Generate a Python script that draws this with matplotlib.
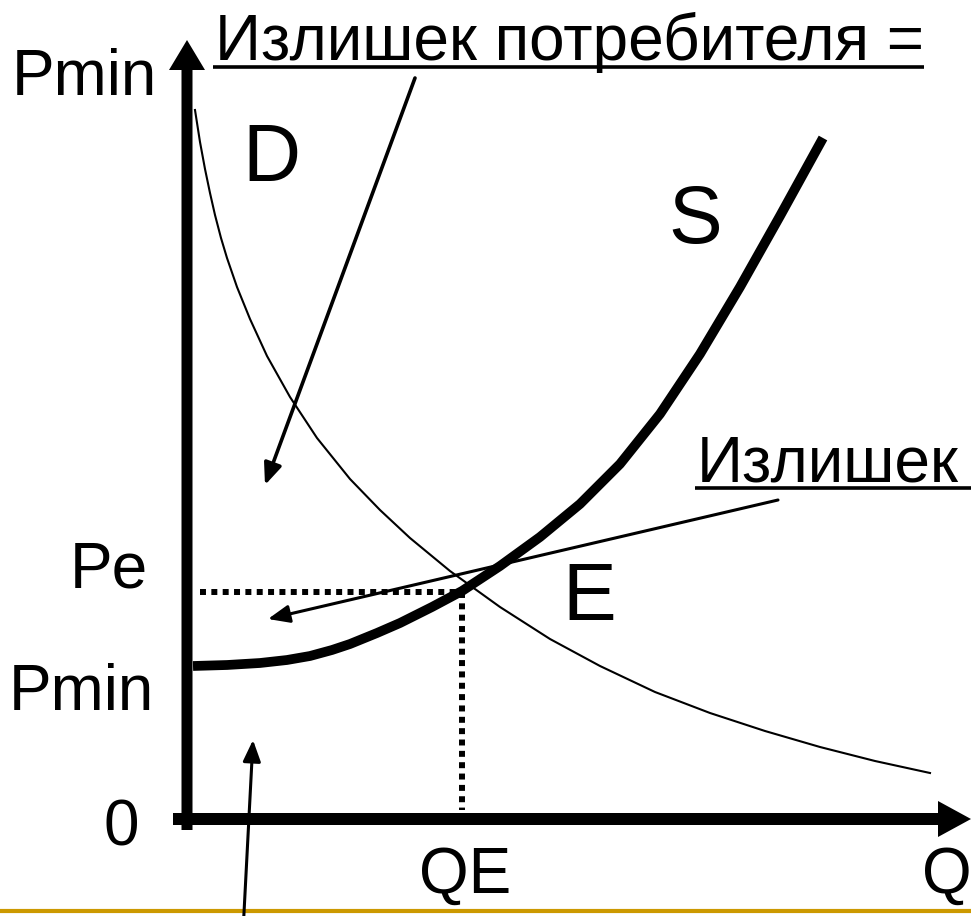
import numpy as np
import matplotlib.pyplot as plt
from matplotlib.patches import FancyArrow

plt.rcParams['font.family'] = ['Liberation Sans', 'DejaVu Sans']

# Curves (Q, P); origin at the axes corner
supply_q = [6, 40, 73, 100, 123, 145, 163, 190, 213, 245, 275, 313, 353, 393, 433, 473, 513, 553, 593, 636]
supply_p = [156, 157, 159, 162, 166, 172, 178, 189, 199, 215, 231, 256, 285, 318, 358, 408, 468, 535, 606, 684]

demand_q = [8, 13, 18, 23, 28, 34, 40, 50, 63, 80, 103, 130, 163, 193, 223, 263, 313, 363, 413, 468, 523, 578, 633, 688, 743]
demand_p = [712, 680, 653, 629, 607, 584, 564, 535, 503, 466, 425, 384, 343, 312, 284, 251, 215, 183, 156, 130, 109, 91, 75, 61, 49]

q_e, p_e = 275, 230       # equilibrium
p_min = 156

fig = plt.figure(figsize=(9.71, 9.16), dpi=100)
ax = fig.add_axes([0, 0, 1, 1])
ax.set_xlim(-187, 784)
ax.set_ylim(-94, 822)
ax.axis('off')

# axes with arrows
ax.add_patch(FancyArrow(0, -8, 0, 790, width=11, head_width=36, head_length=30,
                        length_includes_head=True, color='black', lw=0))
ax.add_patch(FancyArrow(-14, 3, 798, 0, width=12, head_width=36, head_length=33,
                        length_includes_head=True, color='black', lw=0))

# dotted guides to equilibrium
ax.plot([13, q_e], [p_e, p_e], color='black', lw=4.3, ls=(0, (1, 0.9)))
ax.plot([q_e, q_e], [p_e, 12], color='black', lw=4.3, ls=(0, (1, 0.9)))

# curves
ax.plot(demand_q, demand_p, color='black', lw=1.5, solid_joinstyle='round')
ax.plot(supply_q, supply_p, color='black', lw=7, solid_capstyle='butt',
        solid_joinstyle='round')

# pointer arrows
def pointer(start, end, lw=2.2):
    ax.annotate('', xy=end, xytext=start,
                arrowprops=dict(arrowstyle='-|>,head_length=0.65,head_width=0.27',
                                mutation_scale=20, lw=lw, color='black',
                                shrinkA=0, shrinkB=0))

pointer((228, 744), (78, 337), lw=2.6)
pointer((591, 322), (81, 203))
pointer((56, -110), (66, 82))

# labels
big = 58
mid = 46
ax.text(-175, 727, 'Pmin', fontsize=mid, va='baseline', ha='left')
title = ax.text(28, 762, 'Излишек потребителя =', fontsize=mid, va='baseline', ha='left')
ax.text(55, 641, 'D', fontsize=big, va='baseline', ha='left')
ax.text(481, 579, 'S', fontsize=big, va='baseline', ha='left')
prod = ax.text(510, 341, 'Излишек', fontsize=mid, va='baseline', ha='left')
ax.text(-39, 234, 'Pe', fontsize=mid, va='baseline', ha='right')
ax.text(375, 202, 'E', fontsize=big, va='baseline', ha='left')
ax.text(-33, 112, 'Pmin', fontsize=mid, va='baseline', ha='right')
ax.text(-66, -23, '0', fontsize=mid, va='baseline', ha='center')
ax.text(q_e + 3, -71, 'QE', fontsize=mid, va='baseline', ha='center')
ax.text(735, -71, 'Q', fontsize=mid, va='baseline', ha='left')

# underlines under the two captions
fig.canvas.draw()
inv = ax.transData.inverted()
for t, right_edge, base in [(title, None, 762), (prod, 784, 341)]:
    bb = t.get_window_extent()
    x0 = inv.transform((bb.x0, bb.y0))[0] - 2
    x1 = right_edge if right_edge is not None else inv.transform((bb.x1, bb.y0))[0]
    ax.plot([x0, x1], [base - 7, base - 7], color='black', lw=2.6, solid_capstyle='butt')

# slide divider at the bottom
ax.axhline(-89, color='#CC9900', lw=3)

fig.savefig('out.png', dpi=100)
